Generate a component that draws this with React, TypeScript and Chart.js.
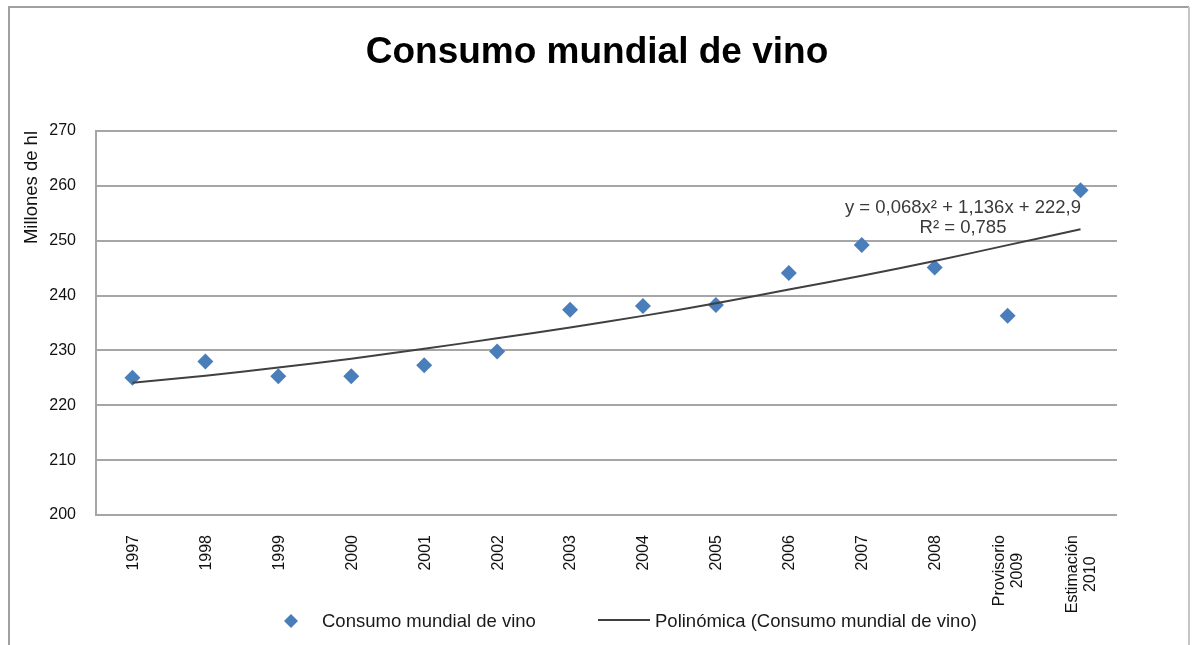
import React, { useEffect, useRef } from "react";
import { Chart, registerables } from "chart.js";

Chart.register(...registerables);

const categories: (string | string[])[] = [
  "1997", "1998", "1999", "2000", "2001", "2002", "2003",
  "2004", "2005", "2006", "2007", "2008",
  ["Provisorio", "2009"], ["Estimación", "2010"],
];
const consumo: number[] = [
  225.0, 228.0, 225.3, 225.3, 227.3, 229.8, 237.4,
  238.1, 238.3, 244.1, 249.2, 245.1, 236.3, 259.2,
];
const tendencia: number[] = [
  224.1, 225.4, 226.9, 228.5, 230.3, 232.2, 234.2,
  236.3, 238.6, 241.1, 243.6, 246.3, 249.2, 252.1,
];
const yTicks: number[] = [200, 210, 220, 230, 240, 250, 260, 270];
const chartTitle = "Consumo mundial de vino";
const seriesName = "Consumo mundial de vino";
const trendName = "Polinómica (Consumo mundial de vino)";
const equation = ["y = 0,068x² + 1,136x + 222,9", "R² = 0,785"];

const FONT = "'Liberation Sans', Arial, sans-serif";
const BLUE = "#4a7ebb";
const TREND = "#404040";
const GRID = "#a6a6a6";

const framePlugin = {
  id: "frame",
  beforeDraw(chart: any) {
    const { ctx, width, height } = chart;
    ctx.save();
    ctx.fillStyle = "#ffffff";
    ctx.fillRect(0, 0, width, height);
    ctx.lineWidth = 2;
    ctx.strokeStyle = "#a0a0a0";
    ctx.beginPath();
    ctx.moveTo(9, height);
    ctx.lineTo(9, 7);
    ctx.lineTo(1189, 7);
    ctx.stroke();
    ctx.strokeStyle = "#c4c4c4";
    ctx.beginPath();
    ctx.moveTo(1189, 7);
    ctx.lineTo(1189, height);
    ctx.stroke();
    // chart title
    ctx.font = `bold 37px ${FONT}`;
    ctx.fillStyle = "#000000";
    ctx.textAlign = "center";
    ctx.textBaseline = "alphabetic";
    ctx.fillText(chartTitle, 597, 63);
    ctx.restore();
  },
};

const xLabelPlugin = {
  id: "xlabels",
  afterDraw(chart: any) {
    const { ctx } = chart;
    const xs = chart.scales.x;
    const top = chart.chartArea.bottom + 20;
    const lh = 17.5;
    ctx.save();
    ctx.font = `16px ${FONT}`;
    ctx.fillStyle = "#111111";
    ctx.textBaseline = "middle";
    categories.forEach((lab, i) => {
      const lines = Array.isArray(lab) ? lab : [lab];
      const x = xs.getPixelForTick(i);
      const blockW = Math.max(...lines.map((l) => ctx.measureText(l).width));
      ctx.save();
      ctx.translate(x, top);
      ctx.rotate(-Math.PI / 2);
      ctx.textAlign = "center";
      lines.forEach((l, j) => {
        const off = (j - (lines.length - 1) / 2) * lh;
        ctx.fillText(l, -blockW / 2, off + 1);
      });
      ctx.restore();
    });
    ctx.restore();
  },
};

const annotationPlugin = {
  id: "annot",
  afterDatasetsDraw(chart: any) {
    const { ctx } = chart;
    ctx.save();
    ctx.font = `18.5px ${FONT}`;
    ctx.fillStyle = "#3a3a3a";
    ctx.textAlign = "center";
    ctx.textBaseline = "alphabetic";
    ctx.fillText(equation[0], 963, 213);
    ctx.fillText(equation[1], 963, 233);
    ctx.restore();
  },
};

const legendPlugin = {
  id: "customLegend",
  afterDraw(chart: any) {
    const { ctx } = chart;
    const cy = 621;
    ctx.save();
    const r = 7;
    const mx = 291;
    ctx.fillStyle = BLUE;
    ctx.beginPath();
    ctx.moveTo(mx, cy - r);
    ctx.lineTo(mx + r, cy);
    ctx.lineTo(mx, cy + r);
    ctx.lineTo(mx - r, cy);
    ctx.closePath();
    ctx.fill();
    ctx.font = `18.5px ${FONT}`;
    ctx.fillStyle = "#1a1a1a";
    ctx.textAlign = "left";
    ctx.textBaseline = "alphabetic";
    ctx.fillText(seriesName, 322, 627);
    ctx.strokeStyle = TREND;
    ctx.lineWidth = 2;
    ctx.beginPath();
    ctx.moveTo(598, 620);
    ctx.lineTo(650, 620);
    ctx.stroke();
    ctx.fillText(trendName, 655, 627);
    ctx.restore();
  },
};

export default function App() {
  const ref = useRef<HTMLCanvasElement | null>(null);

  useEffect(() => {
    document.body.style.margin = "0";
    if (!ref.current) return;
    const chart = new Chart(ref.current, {
      type: "line",
      data: {
        labels: categories as any,
        datasets: [
          {
            label: seriesName,
            data: consumo,
            showLine: false,
            pointStyle: "rectRot",
            pointRadius: 8,
            pointHoverRadius: 8,
            pointBackgroundColor: BLUE,
            pointBorderColor: BLUE,
            pointBorderWidth: 0,
            backgroundColor: BLUE,
            borderColor: BLUE,
            order: 1,
          },
          {
            label: trendName,
            data: tendencia,
            borderColor: TREND,
            borderWidth: 2,
            pointRadius: 0,
            pointHoverRadius: 0,
            tension: 0.3,
            fill: false,
            order: 0,
          },
        ],
      },
      options: {
        responsive: false,
        animation: false,
        events: [],
        layout: { padding: { top: 131, left: 0, right: 77, bottom: 0 } },
        plugins: {
          legend: { display: false },
          tooltip: { enabled: false },
          title: { display: false },
        },
        scales: {
          x: {
            type: "category",
            offset: true,
            grid: { display: false, drawTicks: false },
            border: { display: false },
            ticks: { display: false, autoSkip: false },
            afterFit: (s: any) => {
              s.height = 130;
            },
          },
          y: {
            min: 200,
            max: 270,
            afterBuildTicks: (s: any) => {
              s.ticks = yTicks.map((v) => ({ value: v }));
            },
            grid: { color: GRID, lineWidth: 2, drawTicks: false },
            border: { display: true, color: GRID, width: 2 },
            ticks: {
              padding: 20,
              color: "#111111",
              font: { family: FONT, size: 16 },
            },
            title: {
              display: true,
              text: "Millones de hl",
              align: "end",
              color: "#111111",
              font: { family: FONT, size: 18.5, lineHeight: 1.2 },
              padding: { top: 21, bottom: 0 },
            },
            afterFit: (s: any) => {
              s.width = 96;
            },
          },
        },
      },
      plugins: [framePlugin, xLabelPlugin, annotationPlugin, legendPlugin],
    });
    return () => chart.destroy();
  }, []);

  return (
    <div style={{ width: 1194, height: 645 }}>
      <canvas ref={ref} width={1194} height={645} style={{ display: "block" }} />
    </div>
  );
}
